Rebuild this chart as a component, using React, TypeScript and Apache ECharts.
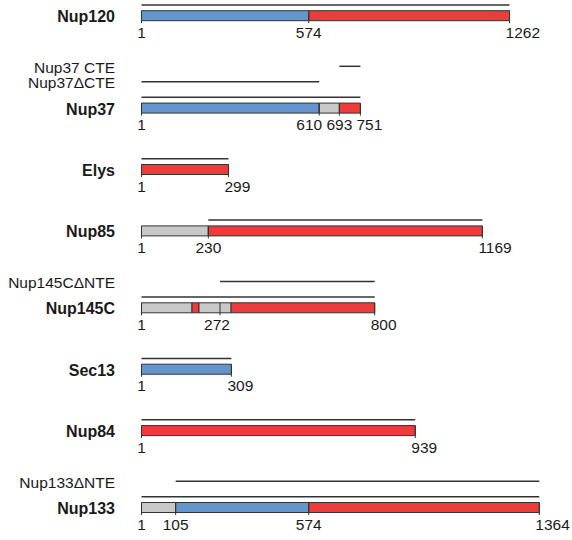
import React, { useEffect, useRef } from "react";
import * as echarts from "echarts";

// ---------- data ----------
const proteins = ["Nup120", "Nup37", "Elys", "Nup85", "Nup145C", "Sec13", "Nup84", "Nup133"];
const proteinLengths = [1262, 751, 299, 1169, 800, 309, 939, 1364];
// crystallised full construct drawn as a line above each bar [start, end]
const fullConstructs = [[1, 1262], [1, 751], [1, 299], [230, 1169], [1, 800], [1, 309], [1, 939], [1, 1364]];
// extra constructs (drawn above the full construct line)
const constructProtein = [1, 1, 4, 7];
const constructNames = ["Nup37 CTE", "Nup37\u0394CTE", "Nup145C\u0394NTE", "Nup133\u0394NTE"];
const constructStarts = [679, 1, 270, 118];
const constructEnds = [751, 610, 800, 1364];
// domain types: 0 = beta-propeller (blue), 1 = alpha-solenoid (red), 2 = other (grey)
const domainTypes = ["\u03b2-propeller", "\u03b1-solenoid", "other"];
const domainProtein = [0, 0, 1, 1, 1, 2, 3, 3, 4, 4, 4, 4, 5, 6, 7, 7, 7];
const domainStarts = [1, 574, 1, 610, 679, 1, 1, 230, 1, 174, 198, 308, 1, 1, 1, 118, 574];
const domainEnds = [574, 1262, 610, 679, 751, 299, 230, 1169, 174, 198, 308, 800, 309, 939, 118, 574, 1364];
const domainType = [0, 1, 0, 2, 1, 1, 2, 1, 2, 1, 2, 1, 0, 1, 2, 0, 1];
// residue number tick labels (text) and where each tick sits on the drawn bar
const residueTickLabels = [
  ["1", "574", "1262"],
  ["1", "610", "693", "751"],
  ["1", "299"],
  ["1", "230", "1169"],
  ["1", "272", "800"],
  ["1", "309"],
  ["1", "939"],
  ["1", "105", "574", "1364"],
];
const residueTickAt = [
  [1, 574, 1262],
  [1, 610, 679, 751],
  [1, 299],
  [1, 230, 1169],
  [1, 270, 800],
  [1, 309],
  [1, 939],
  [1, 118, 574, 1364],
];

// ---------- layout / style (not data) ----------
const TOP_BAR_CENTER = 15.7;
const ROW_GAP = 61.4;
const LINE_GAP = 15.5;
const LINE_ABOVE_BAR = 10.8;
const BAR_H = 10;
const LABEL_BELOW = 16.5;
const NAME_GAP = 26.5;
const COLORS = ["#6496cd", "#ee3b3b", "#c8c8c8"];
const STROKE = "#333333";
const FONT_FAMILY = "Liberation Sans";
const LABEL_SHIFT: Record<string, number> = { "1:1": -10, "4:1": -3 };

function constructsBefore(p: number): number {
  return constructProtein.filter((c) => c <= p).length;
}
function barCenter(p: number): number {
  return TOP_BAR_CENTER + p * ROW_GAP + LINE_GAP * constructsBefore(p);
}
function fullLineY(p: number): number {
  return barCenter(p) - LINE_ABOVE_BAR;
}
function constructY(ci: number): number {
  const p = constructProtein[ci];
  const idxs = constructProtein.map((c, i) => (c === p ? i : -1)).filter((i) => i >= 0);
  const n = idxs.length;
  const j = idxs.indexOf(ci);
  return fullLineY(p) - (n - j) * LINE_GAP;
}

function text(x: number, y: number, s: string, align: string, bold: boolean) {
  return {
    type: "text",
    x,
    y,
    style: {
      text: s,
      fill: "#1a1a1a",
      fontSize: bold ? 16 : 15.5,
      fontWeight: bold ? "bold" : "normal",
      fontFamily: FONT_FAMILY,
      align,
      verticalAlign: "middle",
      textAlign: align,
      textVerticalAlign: "middle",
    },
  };
}

export default function App() {
  const ref = useRef<HTMLDivElement>(null);
  useEffect(() => {
    if (!ref.current) return;
    const chart = echarts.init(ref.current, undefined, { renderer: "svg" });

    const domainData = domainProtein.map((p, i) => [domainStarts[i], domainEnds[i], p, domainType[i]]);
    const fullLineData = fullConstructs.map((c, p) => [c[0], c[1], p]);
    const constructData = constructNames.map((_, i) => [constructStarts[i], constructEnds[i], i]);
    const tickData: number[][] = [];
    residueTickAt.forEach((ticks, p) => ticks.forEach((r, k) => tickData.push([r, r, p, k])));
    const nameData = proteins.map((_, p) => [1, 1, p]);

    chart.setOption({
      animation: false,
      backgroundColor: "#ffffff",
      grid: { left: 141.5, right: 32.7, top: 0, bottom: 0 },
      xAxis: { type: "value", min: 1, max: 1364, show: false },
      yAxis: { type: "value", min: 0, max: 540, inverse: true, show: false },
      series: [
        {
          type: "custom",
          name: "fullConstructs",
          data: fullLineData,
          encode: { x: [0, 1], y: 2 },
          renderItem: (_params: any, api: any) => {
            const p = api.value(2);
            const y = fullLineY(p);
            const a = api.coord([api.value(0), y]);
            const b = api.coord([api.value(1), y]);
            return {
              type: "line",
              shape: { x1: a[0], y1: a[1], x2: b[0], y2: b[1] },
              style: { stroke: STROKE, lineWidth: 1.5 },
            };
          },
        },
        {
          type: "custom",
          name: "constructs",
          data: constructData,
          encode: { x: [0, 1], y: 2 },
          renderItem: (_params: any, api: any) => {
            const ci = api.value(2);
            const y = constructY(ci);
            const a = api.coord([api.value(0), y]);
            const b = api.coord([api.value(1), y]);
            const left = api.coord([1, y]);
            return {
              type: "group",
              children: [
                {
                  type: "line",
                  shape: { x1: a[0], y1: a[1], x2: b[0], y2: b[1] },
                  style: { stroke: STROKE, lineWidth: 1.5 },
                },
                text(left[0] - NAME_GAP, y + 1, constructNames[ci], "right", false),
              ],
            };
          },
        },
        {
          type: "custom",
          name: "domains",
          data: domainData,
          encode: { x: [0, 1], y: 2 },
          renderItem: (_params: any, api: any) => {
            const p = api.value(2);
            const yc = barCenter(p);
            const a = api.coord([api.value(0), yc]);
            const b = api.coord([api.value(1), yc]);
            return {
              type: "rect",
              shape: { x: a[0], y: yc - BAR_H / 2, width: b[0] - a[0], height: BAR_H },
              style: { fill: COLORS[api.value(3)], stroke: STROKE, lineWidth: 1 },
            };
          },
        },
        {
          type: "custom",
          name: "residueTicks",
          data: tickData,
          encode: { x: 0, y: 2 },
          renderItem: (_params: any, api: any) => {
            const r = api.value(0);
            const p = api.value(2);
            const k = api.value(3);
            const yc = barCenter(p);
            const a = api.coord([r, yc]);
            const last = k === residueTickAt[p].length - 1;
            const shift = LABEL_SHIFT[`${p}:${k}`] || 0;
            const lx = last ? a[0] - 4 : a[0] + shift;
            return {
              type: "group",
              children: [
                {
                  type: "line",
                  shape: { x1: a[0], y1: yc - BAR_H / 2, x2: a[0], y2: yc + BAR_H / 2 + 2.5 },
                  style: { stroke: STROKE, lineWidth: 1 },
                },
                text(lx, yc + LABEL_BELOW, residueTickLabels[p][k], last ? "left" : "center", false),
              ],
            };
          },
        },
        {
          type: "custom",
          name: "proteins",
          data: nameData,
          encode: { x: 0, y: 2 },
          renderItem: (_params: any, api: any) => {
            const p = api.value(2);
            const yc = barCenter(p);
            const a = api.coord([1, yc]);
            return text(a[0] - NAME_GAP, yc + 1, proteins[p], "right", true);
          },
        },
      ],
    });
    return () => chart.dispose();
  }, []);
  return (
    <div
      ref={ref}
      style={{ position: "fixed", left: 0, top: 0, width: 572, height: 540, background: "#fff" }}
    />
  );
}
